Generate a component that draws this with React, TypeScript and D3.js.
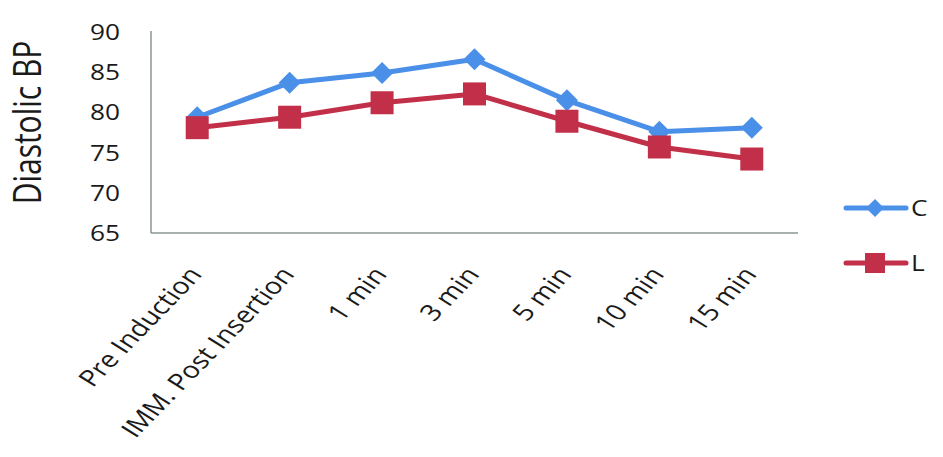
import React from "react";
import * as d3 from "d3";

const categories = ["Pre Induction", "IMM. Post Insertion", "1 min", "3 min", "5 min", "10 min", "15 min"];
const seriesC = [79.4, 83.7, 84.9, 86.6, 81.5, 77.6, 78.1];
const seriesL = [78.1, 79.4, 81.2, 82.3, 78.9, 75.7, 74.2];
const yTicks = [65, 70, 75, 80, 85, 90];
const yTitle = "Diastolic BP";

const W = 943, H = 457;
const left = 151, right = 798, top = 32, bottom = 233;
const BLUE = "#4a8fe8";
const RED = "#c22f48";
const FONT = "'Open Sans', sans-serif";
const SX = 1.25;

export default function App() {
  const x = d3.scalePoint<string>().domain(categories).range([left, right]).padding(0.5);
  const y = d3.scaleLinear().domain([65, 90]).range([bottom, top]);
  const line = d3.line<number>().x((_, i) => x(categories[i])!).y((d) => y(d));
  const diamond = (cx: number, cy: number, r: number) =>
    `M${cx},${cy - r}L${cx + r},${cy}L${cx},${cy + r}L${cx - r},${cy}Z`;

  return (
    <svg width={W} height={H} style={{ position: "absolute", left: 0, top: 0, background: "#fff" }}>
      <rect width={W} height={H} fill="#fff" />
      {/* axes */}
      <line x1={left} x2={left} y1={top - 1} y2={bottom} stroke="#8a9595" strokeWidth={1.5} />
      <line x1={left} x2={right} y1={bottom} y2={bottom} stroke="#8a9595" strokeWidth={1.5} />
      {/* y ticks */}
      {yTicks.map((t) => (
        <text key={t} transform={`translate(120,${y(t) + 8}) scale(${SX},1)`} textAnchor="end"
          fontFamily={FONT} fontSize={21} fill="#1a1a1a">{t}</text>
      ))}
      {/* y title */}
      <text transform={`translate(41,${(top + bottom) / 2 - 10}) scale(${SX},1) rotate(-90)`} textAnchor="middle"
        fontFamily={FONT} fontSize={30} fill="#1a1a1a">{yTitle}</text>
      {/* x labels */}
      {categories.map((c) => (
        <text key={c} transform={`translate(${x(c)! + 6},${bottom + 42}) scale(${SX},1) rotate(-52)`} textAnchor="end"
          fontFamily={FONT} fontSize={23} fill="#1a1a1a">{c}</text>
      ))}
      {/* series C */}
      <path d={line(seriesC)!} fill="none" stroke={BLUE} strokeWidth={5} strokeLinejoin="round" />
      {seriesC.map((v, i) => (
        <path key={i} d={diamond(x(categories[i])!, y(v), 11)} fill={BLUE} />
      ))}
      {/* series L */}
      <path d={line(seriesL)!} fill="none" stroke={RED} strokeWidth={5} strokeLinejoin="round" />
      {seriesL.map((v, i) => (
        <rect key={i} x={x(categories[i])! - 11.5} y={y(v) - 11.5} width={23} height={23} fill={RED} />
      ))}
      {/* legend */}
      <line x1={846} x2={906} y1={208} y2={208} stroke={BLUE} strokeWidth={5} strokeLinecap="round" />
      <path d={diamond(875, 208, 9)} fill={BLUE} />
      <text transform={`translate(911,216) scale(${SX},1)`} fontFamily={FONT} fontSize={21} fill="#1a1a1a">C</text>
      <line x1={846} x2={906} y1={263} y2={263} stroke={RED} strokeWidth={5} strokeLinecap="round" />
      <rect x={865} y={253} width={20} height={20} fill={RED} />
      <text transform={`translate(911,271) scale(${SX},1)`} fontFamily={FONT} fontSize={21} fill="#1a1a1a">L</text>
    </svg>
  );
}
